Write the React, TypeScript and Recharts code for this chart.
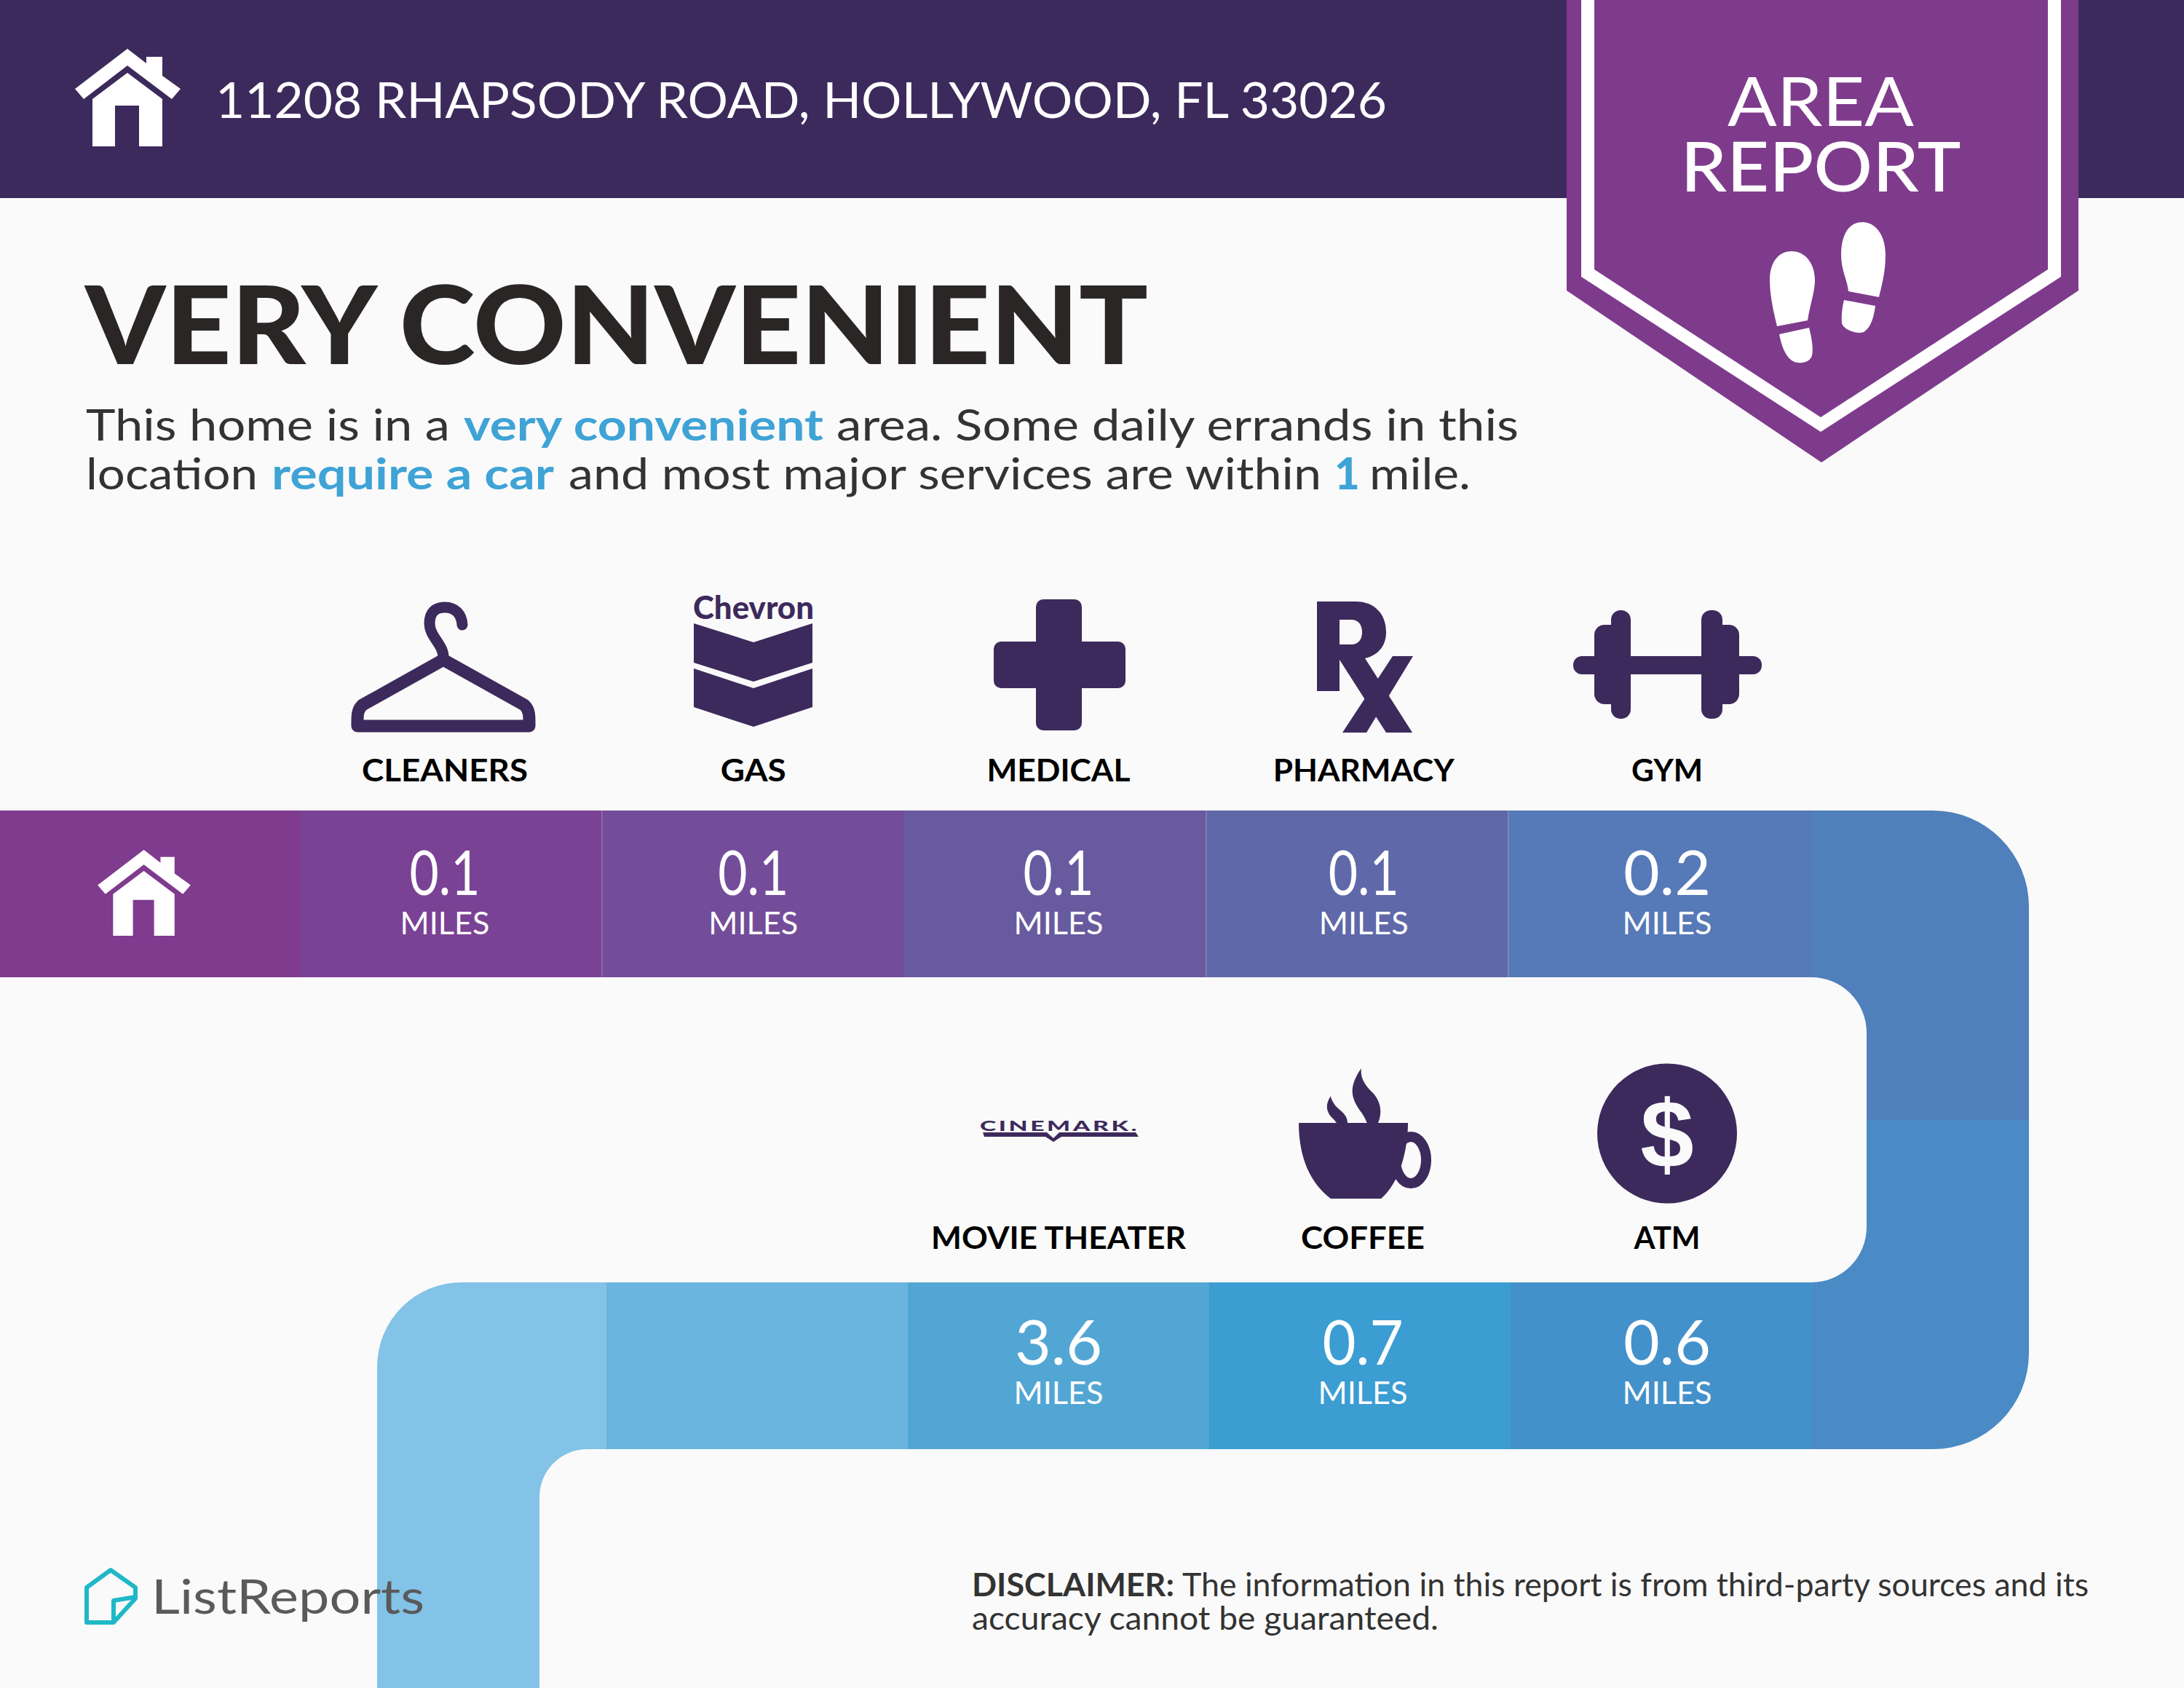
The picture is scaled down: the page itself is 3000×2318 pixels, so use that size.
import React from "react";
import { BarChart, Bar, XAxis, YAxis } from "recharts";

// ---------- data ----------
const upperStops = ["HOME", "CLEANERS", "GAS", "MEDICAL", "PHARMACY", "GYM", "UPPER TURN"];
const upperMiles = [null, 0.1, 0.1, 0.1, 0.1, 0.2, null];
const lowerStops = ["TAIL", "LINK", "MOVIE THEATER", "COFFEE", "ATM", "LOWER TURN"];
const lowerMiles = [null, null, 3.6, 0.7, 0.6, null];
const segmentSpan = 1;

const upperRows = upperStops.map((name, i) => ({ name, miles: upperMiles[i], span: segmentSpan }));
const lowerRows = lowerStops.map((name, i) => ({ name, miles: lowerMiles[i], span: segmentSpan }));

// ---------- palette ----------
const upperFills = ["#7f3b8e", "#7a4295", "#734d9a", "#685a9f", "#5f68a9", "#5679b7", "#4f80bb"];
const lowerFills = ["#83c3e7", "#6ab5df", "#52a6d4", "#3b9dd2", "#4391cb", "#4a8bc5"];
const INK = "#3d2a5c";
const FONT = "Lato, 'Noto Sans', sans-serif";

// ---------- layout ----------
const W = 3000;
const H = 2318;
const UPPER_TOP = 1113;
const LOWER_TOP = 1761;
const BAND_H = 229;
const AXIS_H = 1;
const RIGHT_EDGE = 2787;
const CONNECT_X = 2564;
const SPLIT_Y = 1538;
const TAIL_X = 518;
const TAIL_INNER = 741;
const labelWidths: Record<string, number> = {
  CLEANERS: 228, GAS: 90, MEDICAL: 197, PHARMACY: 249, GYM: 98,
  "MOVIE THEATER": 350, COFFEE: 170, ATM: 91,
};
const columnNudge: Record<string, number> = { GAS: 4, MEDICAL: 3.5, PHARMACY: 3 };

function T(props: any) {
  const { w, children, ...rest } = props;
  return (
    <text fontFamily={FONT} textLength={w} lengthAdjust={w ? "spacingAndGlyphs" : undefined} {...rest}>
      {children}
    </text>
  );
}

function House({ fill = "#fff" }: { fill?: string }) {
  return (
    <g fill={fill}>
      <polygon points="175,67 201,87 201,78 223,78 223,104 248,122 236,136 175,90 115,136 103,122" />
      <polygon points="175,100 223,136 223,201 191,201 191,145 158,145 158,201 127,201 127,136" />
    </g>
  );
}

function Icon({ name }: { name: string }) {
  switch (name) {
    case "CLEANERS":
      return (
        <g fill="none" stroke={INK} strokeLinejoin="round" strokeLinecap="round">
          <path strokeWidth={17} d="M609 906 L498 968 C490 975 491 985 491 997 L727 997 C727 985 728 975 720 968 Z" />
          <path strokeWidth={15} d="M609 904 C610 885 590 875 590 856 C590 841 598 834 611 834 C625 834 634 843 635 858" />
        </g>
      );
    case "GAS":
      return (
        <g fill={INK}>
          <T x={1035} y={850} fontSize={44} fontWeight={900} textAnchor="middle" w={166} fill={INK}>Chevron</T>
          <polygon points="953,856 1035,882 1116,856 1116,910 1035,936 953,910" />
          <polygon points="953,918 1035,945 1116,918 1116,971 1035,998 953,971" />
        </g>
      );
    case "MEDICAL":
      return (
        <g fill={INK}>
          <rect x={1423} y={823} width={63} height={180} rx={10} />
          <rect x={1365} y={881} width={181} height={64} rx={10} />
        </g>
      );
    case "PHARMACY":
      return (
        <g fill={INK}>
          <path fillRule="evenodd" d="M1809 826 H1862 C1890 826 1904 845 1904 868 C1904 888 1892 900 1875 904 L1940 1006 H1904 L1840 906 V949 H1809 Z M1840 851 V885 H1856 C1866 885 1871 878 1871 868 C1871 858 1866 851 1856 851 Z" />
          <polygon points="1913,901 1941,901 1877,1006 1844,1006" />
        </g>
      );
    case "GYM":
      return (
        <g fill={INK}>
          <rect x={2161} y={901} width={259} height={25} rx={12} />
          <rect x={2190} y={858} width={40} height={109} rx={14} />
          <rect x={2213} y={838} width={27} height={149} rx={13} />
          <rect x={2337} y={838} width={29} height={149} rx={13} />
          <rect x={2349} y={858} width={40} height={109} rx={14} />
        </g>
      );
    case "MOVIE THEATER":
      return (
        <g fill={INK}>
          <T x={1346} y={1553} fontSize={19} fontWeight={900} w={219} fill={INK} letterSpacing={2}>CINEMARK.</T>
          <polygon points="1350,1555 1438,1555 1447,1563 1455,1555 1560,1555 1564,1561 1458,1561 1447,1568 1436,1561 1352,1561" />
        </g>
      );
    case "COFFEE":
      return (
        <g>
          <ellipse cx={1938} cy={1593} rx={21} ry={32} fill="none" stroke={INK} strokeWidth={14} />
          <path fill={INK} d="M1784 1542 L1934 1542 C1934 1580 1922 1625 1897 1646 L1828 1646 C1800 1625 1784 1590 1784 1542 Z" />
          <path fill={INK} d="M1870 1467 C1850 1495 1858 1510 1868 1525 C1876 1535 1877 1542 1878 1542 L1893 1542 C1900 1525 1895 1510 1885 1500 C1875 1490 1868 1480 1870 1467 Z" />
          <path fill={INK} d="M1828 1505 C1818 1520 1824 1530 1832 1537 L1836 1542 L1851 1542 C1851 1530 1840 1525 1834 1518 C1830 1512 1828 1508 1828 1505 Z" />
        </g>
      );
    case "ATM":
      return (
        <g>
          <circle cx={2290} cy={1556.5} r={96} fill={INK} />
          <text x={2290} y={1603} fontFamily="'Liberation Sans', sans-serif" fontSize={132} fontWeight={700} textAnchor="middle" fill="#fafafa">$</text>
        </g>
      );
    default:
      return null;
  }
}

function valueWidth(text: string) {
  return text.endsWith("1") ? 97 : text.endsWith("7") ? 111 : 120;
}

function makeTick(rows: any[], top: number, labelGap: number, valueDrop: number, unitDrop: number) {
  return function StopTick(props: any) {
    const { x, index } = props;
    const row = rows[index];
    if (!row) return null;
    if (row.name === "HOME") {
      return (
        <g transform="translate(198,1226) scale(.88) translate(-175.5,-134)">
          <House />
        </g>
      );
    }
    if (row.miles == null) return null;
    const text = row.miles.toFixed(1);
    const cx = x + (columnNudge[row.name] || 0);
    return (
      <g>
        <Icon name={row.name} />
        <T x={cx} y={top - labelGap} fontSize={42} fontWeight={700} fill="#000" textAnchor="middle" w={labelWidths[row.name]}>
          {row.name}
        </T>
        <T x={cx} y={top + valueDrop} fontSize={85} fontWeight={400} fill="#fff" textAnchor="middle" w={valueWidth(text)}>
          {text}
        </T>
        <T x={cx} y={top + unitDrop} fontSize={42} fontWeight={400} fill="#fff" textAnchor="middle" w={123}>
          MILES
        </T>
      </g>
    );
  };
}

function UpperSegment(props: any) {
  const { x, y, width, height, index } = props;
  const fill = upperFills[index];
  if (index === upperStops.length - 1) {
    const r = 132;
    const ir = 76;
    const d = `M${x} ${y} L${RIGHT_EDGE - r} ${y} A${r} ${r} 0 0 1 ${RIGHT_EDGE} ${y + r} L${RIGHT_EDGE} ${SPLIT_Y} L${CONNECT_X} ${SPLIT_Y} L${CONNECT_X} ${y + height + ir} A${ir} ${ir} 0 0 0 ${CONNECT_X - ir} ${y + height} L${x} ${y + height} Z`;
    return <path d={d} fill={fill} />;
  }
  return (
    <g>
      <rect x={x} y={y} width={width + 0.5} height={height} fill={fill} />
      {index === 2 || index === 4 || index === 5 ? (
        <rect x={x - 1} y={y} width={1.5} height={height} fill="#fff" opacity={0.22} />
      ) : null}
    </g>
  );
}

function LowerSegment(props: any) {
  const { x, y, width, height, index } = props;
  const fill = lowerFills[index];
  if (index === 0) {
    const right = x + width;
    const r = 116;
    const ir = 66;
    const d = `M${right} ${y} L${TAIL_X + r} ${y} A${r} ${r} 0 0 0 ${TAIL_X} ${y + r} L${TAIL_X} ${H} L${TAIL_INNER} ${H} L${TAIL_INNER} ${y + height + ir} A${ir} ${ir} 0 0 1 ${TAIL_INNER + ir} ${y + height} L${right} ${y + height} Z`;
    return <path d={d} fill={fill} />;
  }
  if (index === lowerStops.length - 1) {
    const r = 132;
    const ir = 76;
    const d = `M${x} ${y + height} L${RIGHT_EDGE - r} ${y + height} A${r} ${r} 0 0 0 ${RIGHT_EDGE} ${y + height - r} L${RIGHT_EDGE} ${SPLIT_Y} L${CONNECT_X} ${SPLIT_Y} L${CONNECT_X} ${y - ir} A${ir} ${ir} 0 0 1 ${CONNECT_X - ir} ${y} L${x} ${y} Z`;
    return <path d={d} fill={fill} />;
  }
  return <rect x={x} y={y} width={width + 0.5} height={height} fill={fill} />;
}

const layer: React.CSSProperties = { position: "absolute", left: 0, top: 0 };

function Backdrop() {
  return (
    <svg width={W} height={H} style={layer}>
      <rect x={0} y={0} width={W} height={272} fill={INK} />
      <House />
      <T x={296} y={161.5} fontSize={68} fontWeight={400} fill="#fff" w={1609}>
        11208 RHAPSODY ROAD, HOLLYWOOD, FL 33026
      </T>

      <polygon points="2152,0 2855,0 2855,399 2502,635 2152,399" fill="#7e3b8c" />
      <polygon points="2172,0 2831,0 2831,380 2501,593 2172,380" fill="#fff" />
      <polygon points="2190,0 2813,0 2813,370 2501,573 2190,370" fill="#7e3b8c" />
      <T x={2501} y={173} fontSize={94} fontWeight={400} fill="#fff" textAnchor="middle" w={256}>AREA</T>
      <T x={2501} y={263} fontSize={94} fontWeight={500} fill="#fff" textAnchor="middle" w={385}>REPORT</T>
      <g fill="#fff">
        <path d="M2441 448 C2434 420 2431 400 2431 385 C2431 360 2443 345 2461 345 C2480 345 2493 362 2493 385 C2493 400 2486 420 2483 440 Z" />
        <path d="M2444 459 L2485 450 C2489 465 2491 480 2489 488 C2487 496 2478 499 2470 498 C2456 497 2448 480 2444 459 Z" />
        <path d="M2539 400 C2538 385 2529 372 2529 350 C2529 322 2540 305 2558 305 C2578 305 2590 325 2590 350 C2590 375 2584 395 2581 408 Z" />
        <path d="M2533 412 L2576 420 C2574 435 2570 450 2560 456 C2550 460 2532 452 2530 444 C2529 432 2531 420 2533 412 Z" />
      </g>

      <T x={117} y={500} fontSize={148} fontWeight={900} fill="#2a2626" w={1460}>VERY CONVENIENT</T>

      <T x={118} y={605} fontSize={60} fontWeight={400} fill="#333" w={500}>This home is in a</T>
      <T x={637} y={605} fontSize={60} fontWeight={700} fill="#3fa3d6" w={494}>very convenient</T>
      <T x={1149} y={605} fontSize={60} fontWeight={400} fill="#333" w={937}>area. Some daily errands in this</T>
      <T x={118} y={672} fontSize={60} fontWeight={400} fill="#333" w={236}>location</T>
      <T x={373} y={672} fontSize={60} fontWeight={700} fill="#3fa3d6" w={388}>require a car</T>
      <T x={781} y={672} fontSize={60} fontWeight={400} fill="#333" w={1034}>and most major services are within</T>
      <T x={1833} y={672} fontSize={60} fontWeight={900} fill="#3fa3d6">1</T>
      <T x={1881} y={672} fontSize={60} fontWeight={400} fill="#333" w={139}>mile.</T>
    </svg>
  );
}

function Overlay() {
  return (
    <svg width={W} height={H} style={{ ...layer, pointerEvents: "none" }}>
      <g fill="none" stroke="#1fb8c8" strokeWidth={6} strokeLinejoin="round">
        <path d="M152 2156 L186 2180 L186 2195 L156 2228 L119 2228 L119 2180 Z" />
        <path d="M156 2226 L156 2198 L186 2193" />
      </g>
      <T x={208} y={2215.5} fontSize={66} fontWeight={400} fill="#5a5a5a" w={375}>ListReports</T>
      <T x={1335} y={2192} fontSize={44} fontWeight={700} fill="#333" w={278}>DISCLAIMER:</T>
      <T x={1624} y={2192} fontSize={44} fontWeight={400} fill="#333" w={1245}>
        The information in this report is from third-party sources and its
      </T>
      <T x={1335} y={2238} fontSize={44} fontWeight={400} fill="#333" w={641}>accuracy cannot be guaranteed.</T>
    </svg>
  );
}

export default function App() {
  return (
    <div style={{ ...layer, width: W, height: H, background: "#fafafa", overflow: "hidden" }}>
      <Backdrop />
      <div style={layer}>
        <BarChart
          width={W}
          height={H}
          data={lowerRows}
          barCategoryGap={0}
          barGap={0}
          margin={{ top: LOWER_TOP - AXIS_H, bottom: H - LOWER_TOP - BAND_H, left: 0, right: 0 }}
        >
          <XAxis xAxisId="band" dataKey="name" scale="band" hide padding={{ left: 419, right: 97 }} />
          <XAxis
            xAxisId="stops"
            dataKey="name"
            scale="band"
            orientation="top"
            height={AXIS_H}
            interval={0}
            axisLine={false}
            tickLine={false}
            padding={{ left: 409, right: 83 }}
            tick={makeTick(lowerRows, LOWER_TOP, 46, 113, 167)}
          />
          <YAxis hide domain={[0, 1]} />
          <Bar xAxisId="band" dataKey="span" isAnimationActive={false} shape={LowerSegment} />
        </BarChart>
      </div>
      <div style={layer}>
        <BarChart
          width={W}
          height={H}
          data={upperRows}
          barCategoryGap={0}
          barGap={0}
          margin={{ top: UPPER_TOP - AXIS_H, bottom: H - UPPER_TOP - BAND_H, left: -40, right: 0 }}
        >
          <XAxis xAxisId="band" dataKey="name" scale="band" hide padding={{ left: 37, right: 98 }} />
          <XAxis
            xAxisId="stops"
            dataKey="name"
            scale="band"
            orientation="top"
            height={AXIS_H}
            interval={0}
            axisLine={false}
            tickLine={false}
            padding={{ left: 21.4, right: 80.35 }}
            tick={makeTick(upperRows, UPPER_TOP, 40, 116, 170)}
          />
          <YAxis hide domain={[0, 1]} />
          <Bar xAxisId="band" dataKey="span" isAnimationActive={false} shape={UpperSegment} />
        </BarChart>
      </div>
      <Overlay />
    </div>
  );
}
